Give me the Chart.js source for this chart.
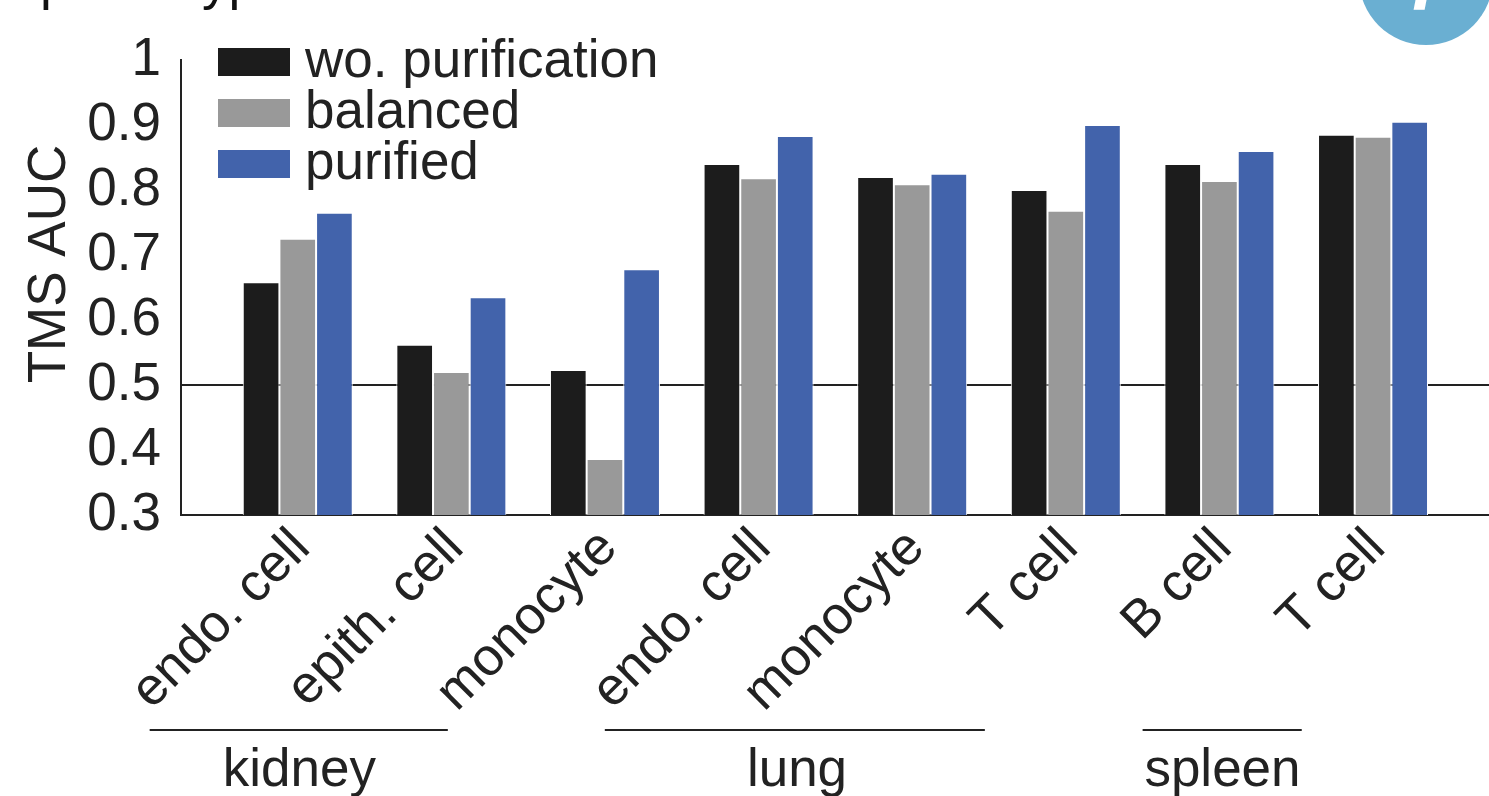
<!DOCTYPE html>
<html>
<head>
<meta charset="utf-8">
<script src="https://cdn.jsdelivr.net/npm/chart.js@4"></script>
<style>
html,body{margin:0;padding:0;background:#fff;}
#wrap{width:1489px;height:796px;position:relative;overflow:hidden;}
</style>
</head>
<body>
<div id="wrap"><canvas id="c" width="1489" height="796"></canvas></div>
<script>
// ---- data ----
const categories = ['endo. cell', 'epith. cell', 'monocyte', 'endo. cell', 'monocyte', 'T cell', 'B cell', 'T cell'];
const seriesNames = ['wo. purification', 'balanced', 'purified'];
const woPurification = [0.658, 0.562, 0.523, 0.840, 0.820, 0.800, 0.840, 0.885];
const balanced       = [0.725, 0.520, 0.386, 0.818, 0.809, 0.768, 0.814, 0.882];
const purified       = [0.765, 0.635, 0.678, 0.883, 0.825, 0.900, 0.860, 0.905];
const yTicks = [0.3, 0.4, 0.5, 0.6, 0.7, 0.8, 0.9, 1];
const groupNames = ['kidney', 'lung', 'spleen'];
const referenceLine = 0.5;
const titleText = 'phenotype';
const panelLetter = 'f';

// ---- styles / layout (not data) ----
const FONT = '"Liberation Sans", Arial, Helvetica, sans-serif';
const FS = 53;
const colors = ['#1c1c1c', '#999999', '#4263ab'];
const INK = '#222222';
// group bracket positions in category units (start, end, label centre)
const groupSpans = [[-0.964, 0.977, 0.01], [1.999, 4.473, 3.25], [5.50, 6.536, 6.02]];

const seriesValues = [woPurification, balanced, purified];

const decor = {
  id: 'decor',
  beforeDatasetsDraw(chart) {
    const {ctx, chartArea, scales} = chart;
    const y = scales.y.getPixelForValue(referenceLine);
    ctx.save();
    ctx.strokeStyle = INK;
    ctx.lineWidth = 2;
    ctx.beginPath();
    ctx.moveTo(chartArea.left, y);
    ctx.lineTo(chartArea.right, y);
    ctx.stroke();
    ctx.restore();
  },
  afterDraw(chart) {
    const {ctx, scales} = chart;
    ctx.save();
    // y-axis title
    ctx.fillStyle = INK;
    ctx.font = FS + 'px ' + FONT;
    ctx.textAlign = 'center';
    ctx.textBaseline = 'middle';
    ctx.translate(50, 264);
    ctx.rotate(-Math.PI / 2);
    ctx.fillText('TMS AUC', 0, 0);
    ctx.restore();

    // legend
    ctx.save();
    ctx.font = FS + 'px ' + FONT;
    ctx.textAlign = 'left';
    ctx.textBaseline = 'middle';
    chart.data.datasets.forEach((ds, i) => {
      const cy = 62 + i * 51;
      ctx.fillStyle = ds.backgroundColor;
      ctx.fillRect(218, cy - 14, 72, 28);
      ctx.fillStyle = INK;
      ctx.fillText(ds.label, 305, cy);
    });
    ctx.restore();

    // group brackets
    ctx.save();
    ctx.strokeStyle = INK;
    ctx.fillStyle = INK;
    ctx.lineWidth = 2;
    ctx.font = FS + 'px ' + FONT;
    ctx.textAlign = 'center';
    ctx.textBaseline = 'alphabetic';
    groupNames.forEach((g, i) => {
      const [a, b, c] = groupSpans[i];
      const xa = scales.x.getPixelForValue(a);
      const xb = scales.x.getPixelForValue(b);
      ctx.beginPath();
      ctx.moveTo(xa, 730);
      ctx.lineTo(xb, 730);
      ctx.stroke();
      ctx.fillText(g, scales.x.getPixelForValue(c), 786);
    });
    ctx.restore();

    // clipped title at top
    ctx.save();
    ctx.fillStyle = '#111';
    ctx.font = FS + 'px ' + FONT;
    ctx.textAlign = 'left';
    ctx.textBaseline = 'alphabetic';
    ctx.fillText(titleText, 40, -1);
    ctx.restore();

    // panel badge
    ctx.save();
    ctx.fillStyle = '#6aafd2';
    ctx.beginPath();
    ctx.arc(1426, -22, 67, 0, Math.PI * 2);
    ctx.fill();
    ctx.fillStyle = '#ffffff';
    ctx.font = 'italic bold 80px ' + FONT;
    ctx.textAlign = 'center';
    ctx.textBaseline = 'alphabetic';
    ctx.fillText(panelLetter, 1424, 10);
    ctx.restore();
  }
};

new Chart(document.getElementById('c'), {
  type: 'bar',
  data: {
    datasets: seriesNames.map((name, s) => ({
      label: name,
      data: seriesValues[s].map((v, i) => ({x: i, y: v})),
      backgroundColor: colors[s],
      borderColor: '#ffffff',
      borderWidth: 1,
      categoryPercentage: 0.716,
      barPercentage: 1.0
    }))
  },
  options: {
    responsive: false,
    animation: false,
    events: [],
    layout: {padding: {top: 60, right: 0, left: 0, bottom: 0}},
    plugins: {legend: {display: false}, tooltip: {enabled: false}, title: {display: false}},
    scales: {
      x: {
        type: 'linear',
        min: -0.76,
        max: 7.755,
        offset: false,
        grid: {display: false, drawTicks: false},
        border: {display: true, color: INK, width: 2},
        afterBuildTicks: (scale) => { scale.ticks = categories.map((_, i) => ({value: i})); },
        afterFit: (scale) => { scale.height = 281; },
        ticks: {
          autoSkip: false,
          minRotation: 45,
          maxRotation: 45,
          padding: 2,
          labelOffset: 4,
          color: INK,
          font: {family: FONT, size: FS},
          callback: (v) => categories[Math.round(v)]
        }
      },
      y: {
        min: 0.3,
        max: 1,
        grid: {display: false, drawTicks: false},
        border: {display: true, color: INK, width: 2},
        afterBuildTicks: (scale) => { scale.ticks = yTicks.map(v => ({value: v})); },
        afterFit: (scale) => { scale.width = 181; },
        ticks: {
          autoSkip: false,
          padding: 20,
          color: INK,
          font: {family: FONT, size: FS},
          callback: (v) => String(Math.round(v * 10) / 10)
        }
      }
    }
  },
  plugins: [decor]
});
</script>
</body>
</html>
